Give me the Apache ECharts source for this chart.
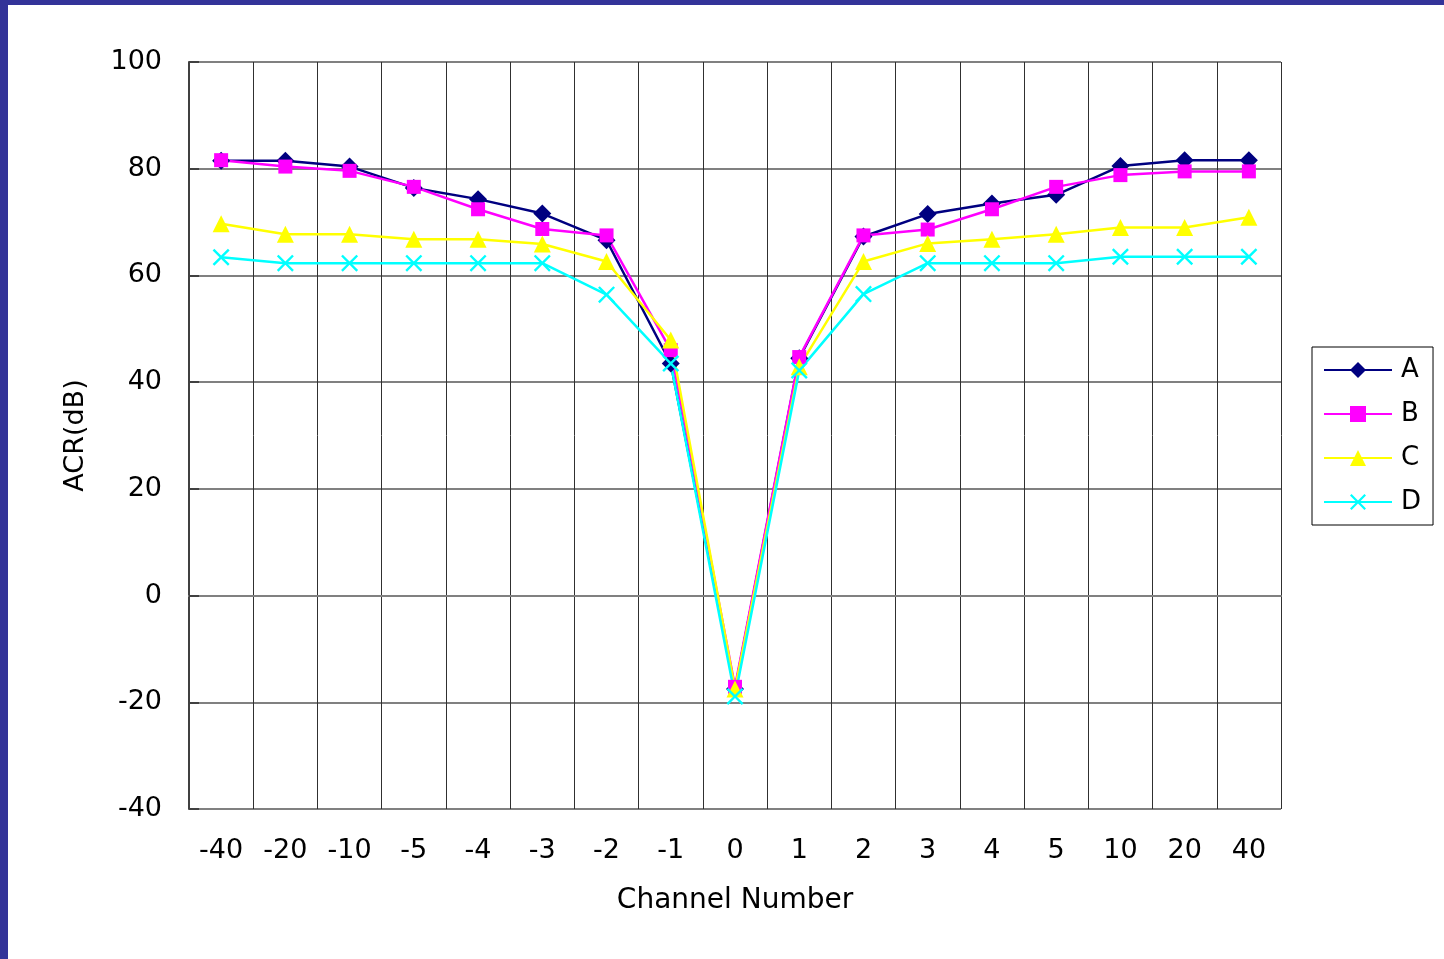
<!DOCTYPE html>
<html>
<head>
<meta charset="utf-8">
<title>ACR vs Channel Number</title>
<script src="https://cdn.jsdelivr.net/npm/echarts@6/dist/echarts.min.js"></script>
<style>
  html, body { margin: 0; padding: 0; background: #333399; }
  #frame { position: absolute; left: 8px; top: 5px; right: 0; bottom: 0; background: #ffffff; }
  #chart { position: absolute; left: -8px; top: -5px; width: 1444px; height: 959px; }
</style>
</head>
<body>
<div id="frame"><div id="chart"></div></div>
<script>
// Channel offsets along the x axis
const channels = ['-40', '-20', '-10', '-5', '-4', '-3', '-2', '-1', '0', '1', '2', '3', '4', '5', '10', '20', '40'];

// ACR (dB) per channel for each curve
const seriesA = [81.5, 81.5, 80.4, 76.4, 74.3, 71.6, 66.6, 43.5, -17.5, 44.5, 67.3, 71.5, 73.5, 75.1, 80.5, 81.6, 81.6];
const seriesB = [81.6, 80.4, 79.6, 76.6, 72.4, 68.7, 67.5, 46.0, -17.1, 44.7, 67.5, 68.6, 72.4, 76.6, 78.8, 79.5, 79.5];
const seriesC = [69.7, 67.7, 67.7, 66.8, 66.8, 65.9, 62.6, 47.9, -17.5, 42.9, 62.6, 66.0, 66.8, 67.7, 69.0, 69.0, 70.9];
const seriesD = [63.4, 62.3, 62.3, 62.3, 62.3, 62.3, 56.4, 43.5, -18.9, 42.2, 56.5, 62.3, 62.3, 62.3, 63.5, 63.5, 63.5];

const yTicks = { min: -40, max: 100, step: 20 };

const FONT = '"DejaVu Sans", Verdana, sans-serif';
const crossPath = 'path://M0,1L1,0L5,4L9,0L10,1L6,5L10,9L9,10L5,6L1,10L0,9L4,5Z';

function lineSeries(name, data, color, symbol, size) {
  return {
    name: name,
    type: 'line',
    data: data,
    symbol: symbol,
    symbolSize: size,
    showAllSymbol: true,
    lineStyle: { color: color, width: 2.5 },
    itemStyle: { color: color },
    emphasis: { disabled: true },
    animation: false
  };
}

const chart = echarts.init(document.getElementById('chart'), null, { renderer: 'canvas' });
chart.setOption({
  backgroundColor: 'transparent',
  animation: false,
  grid: { left: 189, top: 62, right: 163, bottom: 150, containLabel: false },
  legend: {
    orient: 'vertical',
    left: 1312,
    top: 347,
    padding: [10, 12, 10, 11],
    itemGap: 18,
    itemWidth: 68,
    itemHeight: 20,
    borderColor: '#000000',
    borderWidth: 1,
    backgroundColor: '#ffffff',
    textStyle: { fontFamily: FONT, fontSize: 26, color: '#000000', padding: [0, 0, 0, 4] },
    data: ['A', 'B', 'C', 'D']
  },
  xAxis: {
    type: 'category',
    data: channels,
    boundaryGap: true,
    name: 'Channel Number',
    nameLocation: 'middle',
    nameGap: 78,
    nameTextStyle: { fontFamily: FONT, fontSize: 28, color: '#000000' },
    axisLine: { show: true, lineStyle: { color: '#808080', width: 2 } },
    axisTick: { show: false },
    axisLabel: { fontFamily: FONT, fontSize: 27, color: '#000000', margin: 28, interval: 0 },
    splitLine: { show: true, interval: 0, lineStyle: { color: '#303030', width: 1 } }
  },
  yAxis: {
    type: 'value',
    min: yTicks.min,
    max: yTicks.max,
    interval: yTicks.step,
    name: 'ACR(dB)',
    nameLocation: 'middle',
    nameGap: 100,
    nameRotate: 90,
    nameTextStyle: { fontFamily: FONT, fontSize: 27, color: '#000000' },
    axisLine: { show: true, lineStyle: { color: '#404040', width: 2 } },
    axisTick: { show: true, inside: true, length: 10, lineStyle: { color: '#404040', width: 2 } },
    axisLabel: { fontFamily: FONT, fontSize: 27, color: '#000000', margin: 27 },
    splitLine: { show: true, lineStyle: { color: '#808080', width: 2 } }
  },
  series: [
    lineSeries('A', seriesA, '#000080', 'diamond', 18),
    lineSeries('B', seriesB, '#ff00ff', 'rect', 14),
    lineSeries('C', seriesC, '#ffff00', 'triangle', 17),
    lineSeries('D', seriesD, '#00ffff', crossPath, 17)
  ]
});
</script>
</body>
</html>
